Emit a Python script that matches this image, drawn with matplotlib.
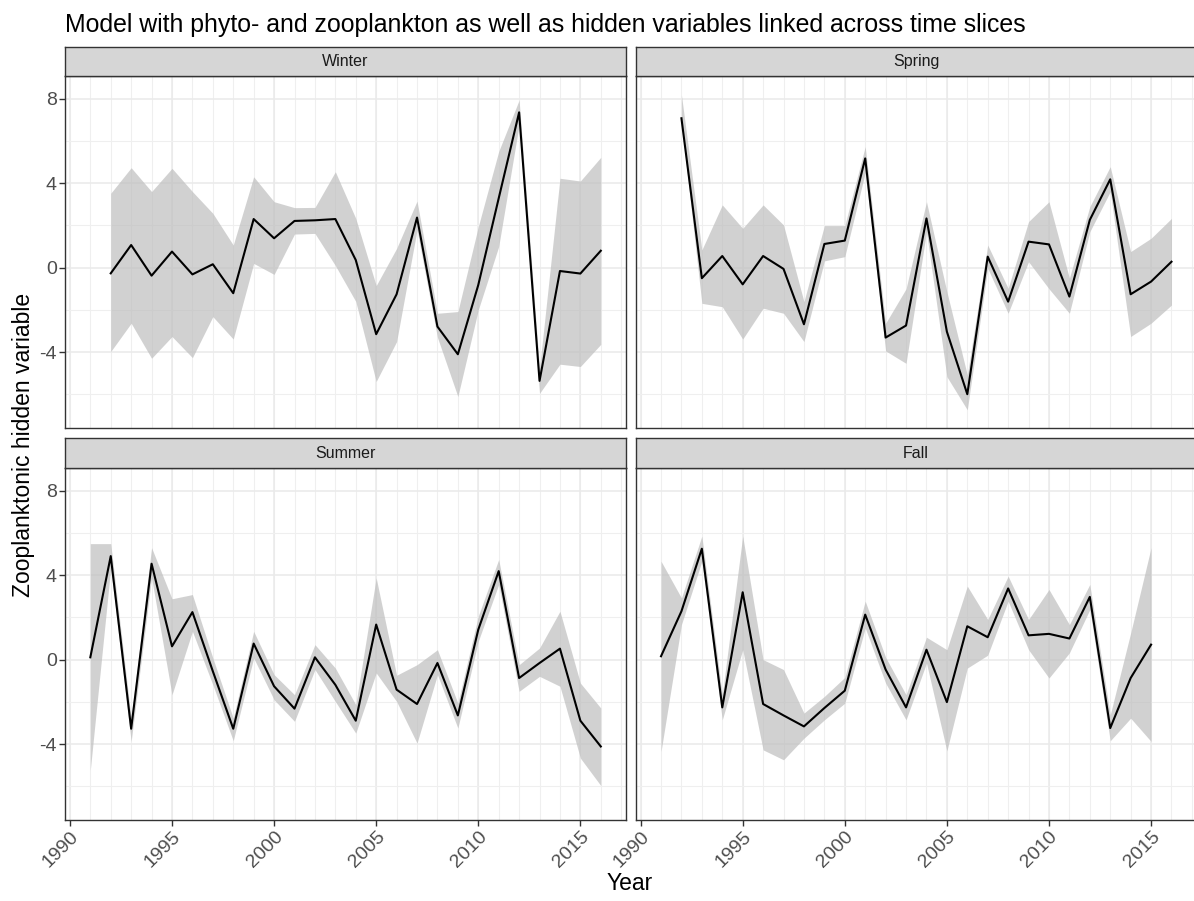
import matplotlib
matplotlib.use("Agg")
import matplotlib.pyplot as plt
import numpy as np

plt.rcParams['font.family'] = ['Liberation Sans', 'DejaVu Sans']

title = "Model with phyto- and zooplankton as well as hidden variables linked across time slices"
seasons = ["Winter", "Spring", "Summer", "Fall"]

winter_years = list(range(1992, 2017))
winter_mean = [-0.27, 1.07, -0.38, 0.76, -0.32, 0.16, -1.21, 2.30, 1.39, 2.21, 2.24, 2.30, 0.36,
               -3.15, -1.26, 2.37, -2.79, -4.10, -0.82, 3.28, 7.35, -5.36, -0.16, -0.28, 0.80]
winter_lo = [-3.97, -2.63, -4.29, -3.26, -4.26, -2.32, -3.38, 0.20, -0.32, 1.59, 1.62, 0.10, -1.60,
             -5.39, -3.50, 1.78, -3.30, -6.10, -2.00, 1.00, 6.75, -5.95, -4.57, -4.68, -3.63]
winter_hi = [3.52, 4.73, 3.60, 4.70, 3.60, 2.57, 1.07, 4.30, 3.12, 2.84, 2.85, 4.54, 2.33,
             -0.85, 0.91, 3.15, -2.16, -2.08, 1.94, 5.50, 7.93, -4.76, 4.23, 4.10, 5.22]

spring_years = list(range(1992, 2017))
spring_mean = [7.07, -0.50, 0.55, -0.79, 0.55, -0.06, -2.68, 1.12, 1.28, 5.17, -3.31, -2.74, 2.33,
               -3.03, -5.99, 0.52, -1.61, 1.23, 1.10, -1.37, 2.26, 4.18, -1.26, -0.66, 0.28]
spring_lo = [6.90, -1.69, -1.85, -3.38, -1.92, -2.16, -3.50, 0.32, 0.52, 4.50, -3.94, -4.53, 1.70,
             -5.16, -6.73, -0.03, -2.16, 0.28, -1.00, -2.16, 1.70, 3.60, -3.26, -2.63, -1.77]
spring_hi = [8.17, 0.84, 2.97, 1.86, 2.97, 2.02, -1.61, 1.99, 1.99, 5.73, -2.63, -1.00, 3.12,
             -1.14, -5.08, 1.07, -0.98, 2.18, 3.12, -0.50, 2.89, 4.78, 0.76, 1.39, 2.33]

summer_years = list(range(1991, 2017))
summer_mean = [0.11, 4.90, -3.27, 4.54, 0.63, 2.25, -0.55, -3.27, 0.76, -1.26, -2.32, 0.11, -1.19,
               -2.89, 1.66, -1.42, -2.10, -0.16, -2.64, 1.42, 4.19, -0.87, -0.16, 0.52, -2.89, -4.11]
summer_lo = [-5.22, 4.35, -3.87, 3.87, -1.66, 1.34, -1.19, -3.84, 0.08, -1.90, -2.92, -0.47, -1.98,
             -3.48, -0.63, -1.98, -3.95, -0.71, -3.24, 0.87, 3.56, -1.50, -0.79, -1.26, -4.66, -5.96]
summer_hi = [5.49, 5.49, -2.77, 5.30, 2.88, 3.08, 0.08, -2.77, 1.34, -0.71, -1.66, 0.71, -0.40,
             -2.13, 3.87, -0.74, -0.24, 0.47, -2.06, 2.06, 4.74, -0.24, 0.55, 2.29, -1.11, -2.29]

fall_years = list(range(1991, 2016))
fall_mean = [0.16, 2.29, 5.25, -2.26, 3.19, -2.10, -2.64, -3.16, -2.29, -1.47, 2.13, -0.47, -2.26,
             0.47, -2.01, 1.58, 1.06, 3.37, 1.15, 1.22, 1.00, 2.97, -3.24, -0.87, 0.71]
fall_lo = [-4.35, 1.66, 4.66, -2.85, 0.47, -4.27, -4.74, -3.72, -2.85, -2.06, 1.50, -1.11, -2.85,
           -0.16, -4.32, -0.40, 0.21, 2.77, 0.47, -0.87, 0.32, 2.37, -3.84, -2.77, -3.87]
fall_hi = [4.66, 2.92, 5.85, -1.66, 5.85, 0.00, -0.47, -2.53, -1.74, -0.84, 2.77, 0.11, -1.66,
           1.06, 0.47, 3.48, 1.90, 3.95, 1.90, 3.32, 1.66, 3.56, -2.61, 1.26, 5.30]

series = {
    "Winter": (winter_years, winter_mean, winter_lo, winter_hi),
    "Spring": (spring_years, spring_mean, spring_lo, spring_hi),
    "Summer": (summer_years, summer_mean, summer_lo, summer_hi),
    "Fall": (fall_years, fall_mean, fall_lo, fall_hi),
}

x_major = [1990, 1995, 2000, 2005, 2010, 2015]
x_minor = list(range(1990, 2018))
y_major = [-4, 0, 4, 8]
y_minor = [-6, -2, 2, 6]

W, H = 1194, 901
fig = plt.figure(figsize=(W / 100, H / 100), dpi=100)
fig.patch.set_facecolor('white')

def rect(x0, x1, y0, y1):
    return [x0 / W, 1 - y1 / H, (x1 - x0) / W, (y1 - y0) / H]

cols = [(65, 625.7), (635.7, 1196.4)]
rows = [(46.7, 76, 428), (438.3, 468, 820)]
border = '#333333'

for i, name in enumerate(seasons):
    r, c = divmod(i, 2)
    x0, x1 = cols[c]
    s0, p0, p1 = rows[r]
    ax = fig.add_axes(rect(x0, x1, p0, p1))
    yrs, m, lo, hi = series[name]
    ax.set_xlim(1989.76, 2017.22)
    ax.set_ylim(-7.59, 9.07)
    for xv in x_minor:
        ax.axvline(xv, color='#EFEFEF', lw=0.8, zorder=0)
    for xv in x_major:
        ax.axvline(xv, color='#EAEAEA', lw=1.1, zorder=0)
    for yv in y_minor:
        ax.axhline(yv, color='#EFEFEF', lw=0.8, zorder=0)
    for yv in y_major:
        ax.axhline(yv, color='#EAEAEA', lw=1.1, zorder=0)
    ax.fill_between(yrs, lo, hi, color='#BEBEBE', alpha=0.7, lw=0, zorder=1)
    ax.plot(yrs, m, color='black', lw=1.5, zorder=2)
    for sp in ax.spines.values():
        sp.set_color(border)
        sp.set_linewidth(1.0)
    ax.set_xticks(x_major)
    ax.set_yticks(y_major)
    ax.tick_params(axis='both', color=border, length=4, width=1.0, labelsize=14,
                   labelcolor='#4D4D4D', pad=2)
    if c == 0:
        ax.set_yticklabels([str(v) for v in y_major])
    else:
        ax.tick_params(axis='y', left=False, labelleft=False)
    if r == 1:
        ax.set_xticklabels([str(v) for v in x_major], rotation=45, ha='right',
                           va='top', rotation_mode='anchor')
    else:
        ax.tick_params(axis='x', bottom=False, labelbottom=False)

    sax = fig.add_axes(rect(x0, x1, s0, p0))
    sax.set_facecolor('#D6D6D6')
    sax.set_xticks([])
    sax.set_yticks([])
    for sp in sax.spines.values():
        sp.set_color(border)
        sp.set_linewidth(1.0)
    sax.text(0.5, 0.5, name, transform=sax.transAxes, ha='center', va='center',
             fontsize=11.5, color='#1A1A1A')

fig.text(65 / W, 1 - 25 / H, title, ha='left', va='center', fontsize=17.9, color='black')
fig.text(630 / W, 1 - 884 / H, "Year", ha='center', va='center', fontsize=16.5, color='black')
fig.text(24 / W, 1 - 445 / H, "Zooplanktonic hidden variable", ha='center', va='center',
         rotation=90, fontsize=16.5, color='black')

fig.savefig("out.png", dpi=100)
